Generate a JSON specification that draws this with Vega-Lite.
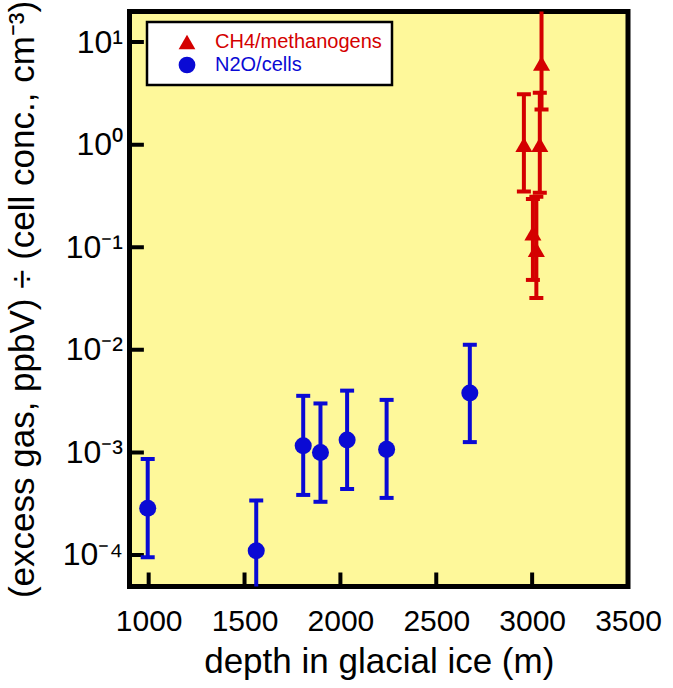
{
  "$schema": "https://vega.github.io/schema/vega-lite/v6.json",
  "autosize": {"type": "none"},
  "padding": {"left": 129.5, "top": 11.5, "right": 45, "bottom": 101.5},
  "width": 498.5,
  "height": 575,
  "background": "white",
  "config": {
    "view": {"fill": "#fef89a", "stroke": "black", "strokeWidth": 5},
    "font": "Liberation Sans",
    "axis": {
      "domain": false, "grid": false, "ticks": false,
      "labelColor": "black", "labelFontSize": 30, "labelFont": "Liberation Sans",
      "titleFont": "Liberation Sans", "titleFontSize": 35, "titleFontWeight": "normal",
      "titleColor": "black", "labelFlush": false, "labelOverlap": false
    },
    "legend": {
      "orient": "none", "legendX": 17.5, "legendY": 10.5,
      "fillColor": "white", "strokeColor": "black", "strokeWidth": 2.5, "padding": 10,
      "symbolSize": 280, "symbolOffset": 20, "symbolStrokeWidth": 0, "symbolOpacity": 1,
      "labelFontSize": 20, "labelFont": "Liberation Sans", "labelOffset": 18,
      "labelLimit": 400, "rowPadding": 3
    }
  },
  "datasets": {
    "points": [
      {"series": "N2O/cells", "depth": 995, "value": 0.000286, "lo": 0.000095, "hi": 0.00086},
      {"series": "N2O/cells", "depth": 1561, "value": 0.00011, "lo": 0.000033, "hi": 0.00034},
      {"series": "N2O/cells", "depth": 1806, "value": 0.00116, "lo": 0.000385, "hi": 0.00356},
      {"series": "N2O/cells", "depth": 1896, "value": 0.001, "lo": 0.00033, "hi": 0.003},
      {"series": "N2O/cells", "depth": 2035, "value": 0.00132, "lo": 0.00044, "hi": 0.004},
      {"series": "N2O/cells", "depth": 2241, "value": 0.00107, "lo": 0.00036, "hi": 0.00325},
      {"series": "N2O/cells", "depth": 2675, "value": 0.0038, "lo": 0.00126, "hi": 0.0112},
      {"series": "CH4/methanogens", "depth": 2957, "value": 1.0, "lo": 0.35, "hi": 3.1},
      {"series": "CH4/methanogens", "depth": 3040, "value": 1.0, "lo": 0.34, "hi": 3.2},
      {"series": "CH4/methanogens", "depth": 3049, "value": 6.2, "lo": 2.2, "hi": 22},
      {"series": "CH4/methanogens", "depth": 3004, "value": 0.137, "lo": 0.048, "hi": 0.295},
      {"series": "CH4/methanogens", "depth": 3022, "value": 0.095, "lo": 0.032, "hi": 0.31}
    ],
    "yticks": [{"t": 0.0001}, {"t": 0.001}, {"t": 0.01}, {"t": 0.1}, {"t": 1}, {"t": 10}],
    "xticks": [{"d": 1000}, {"d": 1500}, {"d": 2000}, {"d": 2500}, {"d": 3000}]
  },
  "layer": [
    {
      "data": {"name": "points"},
      "mark": {"type": "rule", "strokeWidth": 4, "clip": true},
      "encoding": {
        "x": {
          "field": "depth", "type": "quantitative",
          "scale": {"domain": [900, 3500], "nice": false, "zero": false},
          "axis": {"values": [1000, 1500, 2000, 2500, 3000, 3500], "format": "d",
                   "labelPadding": 20, "title": "depth in glacial ice (m)", "titlePadding": 8}
        },
        "y": {
          "field": "lo", "type": "quantitative",
          "scale": {"type": "log", "domain": [0.0000493, 19.85], "nice": false},
          "axis": {
            "values": [0.0001, 0.001, 0.01, 0.1, 1, 10], "labelPadding": 7, "labelFontSize": 32,
            "labelExpr": "datum.value > 5 ? '10¹' : datum.value > 0.5 ? '10⁰' : datum.value > 0.05 ? '10⁻¹' : datum.value > 0.005 ? '10⁻²' : datum.value > 0.0005 ? '10⁻³' : '10⁻⁴'",
            "title": "(excess gas, ppbV) ÷ (cell conc., cm⁻³)", "titleX": -107, "titleBaseline": "middle"
          }
        },
        "y2": {"field": "hi"},
        "color": {
          "field": "series", "type": "nominal",
          "scale": {"domain": ["CH4/methanogens", "N2O/cells"], "range": ["#d40000", "#0a0ad4"]},
          "legend": {"title": null, "encode": {"labels": {"update": {"fill": {"signal": "datum.value === 'CH4/methanogens' ? '#d40000' : '#0a0ad4'"}}}}}
        }
      }
    },
    {
      "data": {"name": "yticks"},
      "mark": {"type": "rule", "strokeWidth": 4, "color": "black", "clip": true},
      "encoding": {"x": {"datum": 900, "type": "quantitative"}, "x2": {"datum": 975}, "y": {"field": "t", "type": "quantitative"}}
    },
    {
      "data": {"name": "xticks"},
      "mark": {"type": "rule", "strokeWidth": 4, "color": "black", "clip": true},
      "encoding": {"x": {"field": "d", "type": "quantitative"}, "y": {"datum": 0.0000493, "type": "quantitative"}, "y2": {"datum": 0.0000675}}
    },
    {
      "data": {"name": "points"},
      "mark": {"type": "tick", "orient": "horizontal", "size": 14, "thickness": 4, "clip": true, "opacity": 1},
      "encoding": {"x": {"field": "depth", "type": "quantitative"}, "y": {"field": "lo", "type": "quantitative"}, "color": {"field": "series", "type": "nominal"}}
    },
    {
      "data": {"name": "points"},
      "mark": {"type": "tick", "orient": "horizontal", "size": 14, "thickness": 4, "clip": true, "opacity": 1},
      "encoding": {"x": {"field": "depth", "type": "quantitative"}, "y": {"field": "hi", "type": "quantitative"}, "color": {"field": "series", "type": "nominal"}}
    },
    {
      "data": {"name": "points"},
      "mark": {"type": "point", "filled": true, "size": 290, "opacity": 1, "clip": true},
      "encoding": {
        "x": {"field": "depth", "type": "quantitative"},
        "y": {"field": "value", "type": "quantitative"},
        "color": {"field": "series", "type": "nominal"},
        "shape": {"field": "series", "type": "nominal",
                  "scale": {"domain": ["CH4/methanogens", "N2O/cells"], "range": ["triangle-up", "circle"]},
                  "legend": {"title": null}}
      }
    }
  ]
}
